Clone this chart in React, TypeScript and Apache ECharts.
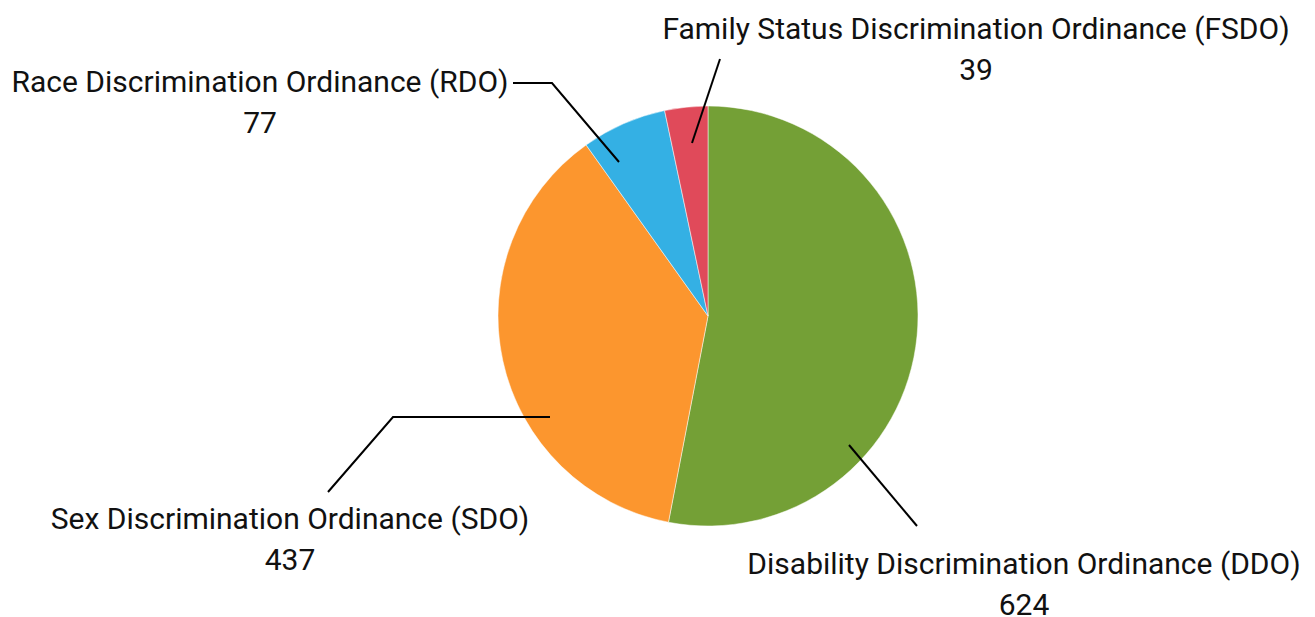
import React, { useEffect, useRef } from "react";
import * as echarts from "echarts";

const categories = [
  "Disability Discrimination Ordinance (DDO)",
  "Sex Discrimination Ordinance (SDO)",
  "Race Discrimination Ordinance (RDO)",
  "Family Status Discrimination Ordinance (FSDO)",
];
const values = [624, 437, 77, 39];
const colors = ["#74A036", "#FC962E", "#34B0E4", "#E04A5A"];

// layout (pixels within the 1315x617 chart)
const labelCenters = [
  [1024, 584],
  [290, 539],
  [260, 102],
  [976, 49],
];
const leaderLines = [
  [[849, 445], [917, 526]],
  [[550, 417], [393, 417], [328, 492]],
  [[619, 162], [552, 83], [513, 83]],
  [[692, 143], [720, 59]],
];

export default function App() {
  const ref = useRef<HTMLDivElement>(null);
  useEffect(() => {
    document.body.style.margin = "0";
    const chart = echarts.init(ref.current!, null, { renderer: "svg" });
    chart.setOption({
      animation: false,
      backgroundColor: "#ffffff",
      series: [
        {
          type: "pie",
          center: [708, 316],
          radius: 210,
          startAngle: 90,
          clockwise: true,
          avoidLabelOverlap: false,
          data: categories.map((name, i) => ({
            name,
            value: values[i],
            itemStyle: { color: colors[i] },
          })),
          itemStyle: { borderColor: "#ffffff", borderWidth: 0.5 },
          label: {
            show: true,
            position: "outside",
            formatter: "{b}\n{c}",
            fontFamily: "Roboto",
            fontSize: 30,
            lineHeight: 41,
            color: "#111111",
            align: "center",
          },
          labelLine: { show: false },
          labelLayout: (params: any) => {
            const i = params.dataIndex;
            return {
              x: labelCenters[i][0],
              y: labelCenters[i][1],
              align: "center",
              verticalAlign: "middle",
            };
          },
          emphasis: { disabled: true },
        },
      ],
      graphic: leaderLines.map((pts) => ({
        type: "polyline",
        z: 100,
        silent: true,
        shape: { points: pts },
        style: { stroke: "#000000", lineWidth: 2, fill: null },
      })),
    });
    return () => chart.dispose();
  }, []);
  return <div ref={ref} style={{ width: 1315, height: 617 }} />;
}
